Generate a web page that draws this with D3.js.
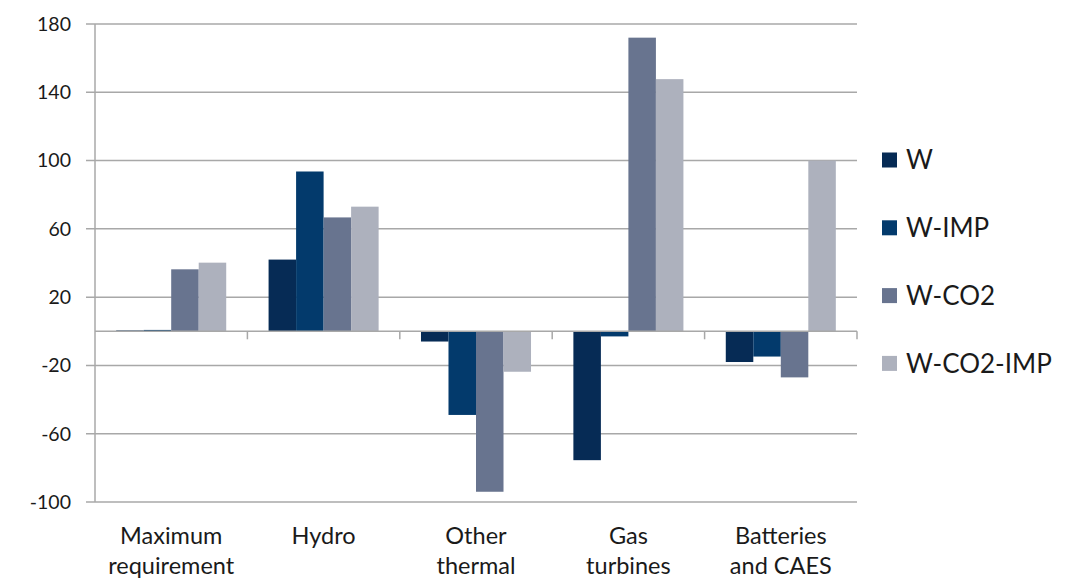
<!DOCTYPE html>
<html>
<head>
<meta charset="utf-8">
<script src="https://cdn.jsdelivr.net/npm/d3@7"></script>
<style>
  body { margin: 0; background: #fff; }
  svg { display: block; font-family: Lato, "Open Sans", sans-serif; }
</style>
</head>
<body>
<svg id="chart" width="1072" height="583"></svg>
<script>
// categories (each label split over two lines)
const categories = ["Maximum requirement", "Hydro", "Other thermal", "Gas turbines", "Batteries and CAES"];
const categoryLines = [["Maximum", "requirement"], ["Hydro"], ["Other", "thermal"], ["Gas", "turbines"], ["Batteries", "and CAES"]];

const seriesNames = ["W", "W-IMP", "W-CO2", "W-CO2-IMP"];
const seriesColors = ["#062b55", "#033a6c", "#68748f", "#adb1bd"];

// values per series, in category order
const valuesW = [0.5, 42, -6, -75.5, -18];
const valuesWIMP = [0.8, 93.6, -49, -3, -14.8];
const valuesWCO2 = [36.3, 66.7, -94, 172, -27];
const valuesWCO2IMP = [40.2, 73, -23.7, 147.7, 100];
const seriesValues = [valuesW, valuesWIMP, valuesWCO2, valuesWCO2IMP];

const yTicks = [180, 140, 100, 60, 20, -20, -60, -100];

const svg = d3.select("#chart");
const plotLeft = 95, plotRight = 857, plotTop = 24, plotBottom = 502;

const x0 = d3.scaleBand().domain(categories).range([plotLeft, plotRight]).padding(0);
const x1 = d3.scaleBand().domain(seriesNames).range([0, x0.bandwidth()])
  .paddingInner(0).paddingOuter(0.77);
const y = d3.scaleLinear().domain([-100, 180]).range([plotBottom, plotTop]);
const color = d3.scaleOrdinal().domain(seriesNames).range(seriesColors);

const gridColor = "#a8a8a8";
const textColor = "#1a1a1a";

// horizontal gridlines + left tick marks
svg.append("g")
  .selectAll("line")
  .data(yTicks)
  .join("line")
  .attr("x1", plotLeft - 9).attr("x2", plotRight)
  .attr("y1", d => y(d)).attr("y2", d => y(d))
  .attr("stroke", gridColor).attr("stroke-width", 1.5);

// y labels
svg.append("g")
  .selectAll("text")
  .data(yTicks)
  .join("text")
  .attr("x", 71)
  .attr("y", d => y(d))
  .attr("dy", "0.35em")
  .attr("text-anchor", "end")
  .attr("font-size", 19.5)
  .attr("fill", textColor)
  .text(d => d);

// bars
const rows = categories.map((c, i) => ({ cat: c, vals: seriesNames.map((s, j) => ({ s, v: seriesValues[j][i] })) }));

svg.append("g")
  .selectAll("g")
  .data(rows)
  .join("g")
  .attr("transform", d => `translate(${x0(d.cat)},0)`)
  .selectAll("rect")
  .data(d => d.vals)
  .join("rect")
  .attr("x", d => x1(d.s))
  .attr("width", x1.bandwidth())
  .attr("y", d => y(Math.max(0, d.v)))
  .attr("height", d => Math.abs(y(d.v) - y(0)))
  .attr("fill", d => color(d.s));

// y axis line
svg.append("line")
  .attr("x1", plotLeft).attr("x2", plotLeft)
  .attr("y1", plotTop).attr("y2", plotBottom)
  .attr("stroke", gridColor).attr("stroke-width", 1.5);

// zero axis with category ticks
svg.append("line")
  .attr("x1", plotLeft).attr("x2", plotRight)
  .attr("y1", y(0)).attr("y2", y(0))
  .attr("stroke", gridColor).attr("stroke-width", 1.5);

const bounds = categories.map(c => x0(c) + x0.bandwidth());
svg.append("g")
  .selectAll("line")
  .data(bounds)
  .join("line")
  .attr("x1", d => d).attr("x2", d => d)
  .attr("y1", y(0)).attr("y2", y(0) + 8)
  .attr("stroke", gridColor).attr("stroke-width", 1.5);

// category labels
svg.append("g")
  .selectAll("text")
  .data(categories)
  .join("text")
  .attr("x", d => x0(d) + x0.bandwidth() / 2)
  .attr("y", 544)
  .attr("text-anchor", "middle")
  .attr("font-size", 23.5)
  .attr("fill", textColor)
  .each(function (d, i) {
    d3.select(this).selectAll("tspan")
      .data(categoryLines[i])
      .join("tspan")
      .attr("x", x0(d) + x0.bandwidth() / 2)
      .attr("dy", (t, k) => k === 0 ? 0 : 30)
      .text(t => t);
  });

// legend
const legend = svg.append("g")
  .selectAll("g")
  .data(seriesNames)
  .join("g")
  .attr("transform", (d, i) => `translate(882,${160 + i * 67.8})`);

legend.append("rect")
  .attr("x", 0).attr("y", -7.5)
  .attr("width", 15).attr("height", 15)
  .attr("fill", d => color(d));

legend.append("text")
  .attr("x", 24)
  .attr("dy", "0.36em")
  .attr("font-size", 26)
  .attr("fill", textColor)
  .text(d => d);
</script>
</body>
</html>
